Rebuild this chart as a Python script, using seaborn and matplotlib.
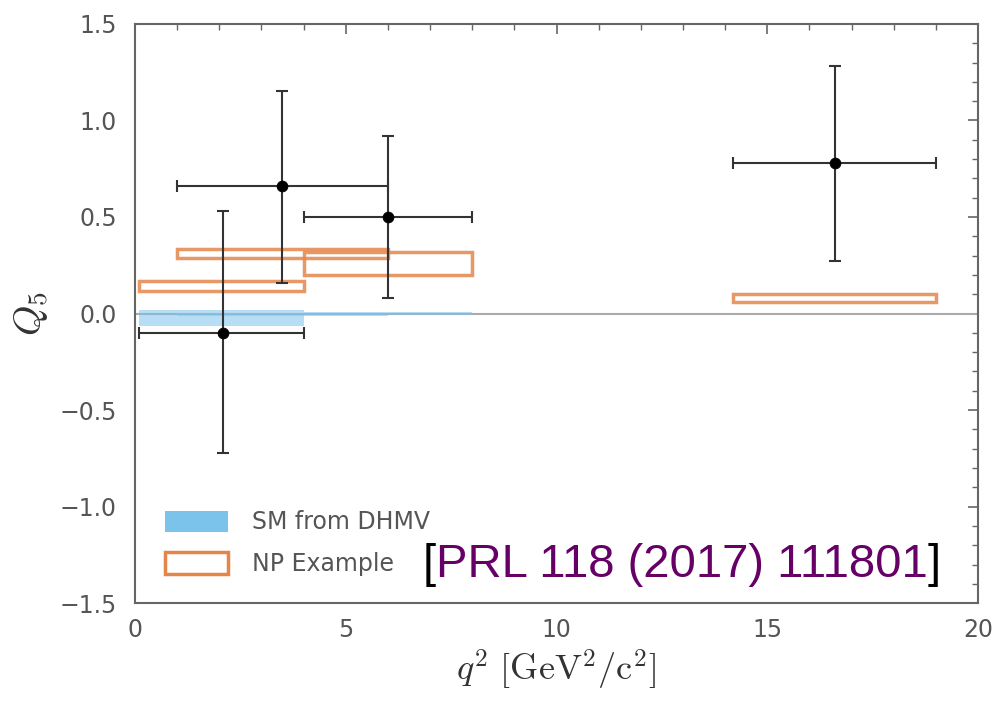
import numpy as np
import pandas as pd
import matplotlib
matplotlib.use("Agg")
import matplotlib.pyplot as plt
import seaborn as sns
from matplotlib.patches import Patch
from matplotlib.ticker import MultipleLocator

# measured Q5 points (Belle)
q2_lo = [0.1, 1.0, 4.0, 14.18]
q2_hi = [4.0, 6.0, 8.0, 19.0]
q2_mid = [2.1, 3.5, 6.0, 16.6]
q5 = [-0.10, 0.66, 0.50, 0.78]
q5_err_up = [0.63, 0.49, 0.42, 0.50]
q5_err_dn = [0.62, 0.50, 0.42, 0.51]

# SM prediction bands (DHMV)
sm_lo = [0.1, 1.0, 4.0]
sm_hi = [4.0, 6.0, 8.0]
sm_ymin = [-0.065, -0.015, -0.01]
sm_ymax = [0.02, 0.005, 0.01]

# NP example boxes
np_lo = [0.1, 1.0, 4.0, 14.18]
np_hi = [4.0, 6.0, 8.0, 19.0]
np_ymin = [0.115, 0.29, 0.20, 0.062]
np_ymax = [0.17, 0.335, 0.32, 0.100]

sns.set_style("white")
plt.rcParams['mathtext.fontset'] = 'cm'
plt.rcParams['font.family'] = ['DejaVu Sans']

fig = plt.figure(figsize=(9.92, 7.03), dpi=100)
ax = fig.add_axes([0.136, 0.142, 0.850, 0.824])

blue = '#7cc3ec'
orange = '#e4864a'
grey = '#555555'

ax.axhline(0, color='#aaaaaa', lw=1.5, zorder=1)

# SM bands
for lo, hi, y0, y1 in zip(sm_lo, sm_hi, sm_ymin, sm_ymax):
    ax.bar(lo, y1 - y0, width=hi - lo, bottom=y0, align='edge',
           color=blue, alpha=0.55, lw=0, zorder=2)

# NP boxes
for lo, hi, y0, y1 in zip(np_lo, np_hi, np_ymin, np_ymax):
    ax.bar(lo, y1 - y0, width=hi - lo, bottom=y0, align='edge',
           facecolor='none', edgecolor=orange, lw=2.5, alpha=0.85, zorder=3)

df = pd.DataFrame({'q2': q2_mid, 'Q5': q5})
xerr = [np.array(q2_mid) - np.array(q2_lo), np.array(q2_hi) - np.array(q2_mid)]
ax.errorbar(q2_mid, q5, xerr=xerr, yerr=[q5_err_dn, q5_err_up], fmt='none',
            ecolor='#333333', elinewidth=1.5, capsize=4, capthick=1.5, zorder=4)
sns.scatterplot(data=df, x='q2', y='Q5', ax=ax, color='black', s=60,
                edgecolor='black', zorder=5, legend=False)

ax.set_xlim(0, 20)
ax.set_ylim(-1.5, 1.5)
ax.xaxis.set_major_locator(MultipleLocator(5))
ax.xaxis.set_minor_locator(MultipleLocator(1))
ax.yaxis.set_major_locator(MultipleLocator(0.5))
ax.yaxis.set_minor_locator(MultipleLocator(0.1))
ax.tick_params(which='both', direction='in', top=True, right=True,
               colors='#666666', labelcolor=grey)
ax.tick_params(which='major', length=7, width=1.2, labelsize=17)
ax.tick_params(axis='x', which='major', pad=11)
ax.tick_params(axis='y', which='major', pad=13)
ax.tick_params(which='minor', length=4, width=1)
for s in ax.spines.values():
    s.set_color('#666666')
    s.set_linewidth(1.5)

ax.set_xlabel(r'$q^2\ [\mathrm{GeV}^2/\mathrm{c}^2]$', fontsize=26, color='#333333',
              labelpad=4)
ax.set_ylabel(r'$Q_5$', fontsize=28, color='#333333', labelpad=6)

handles = [Patch(facecolor=blue, edgecolor='none', label='SM from DHMV'),
           Patch(facecolor='white', edgecolor=orange, lw=2.5, label='NP Example')]
leg = ax.legend(handles=handles, loc='lower left', bbox_to_anchor=(0.01, 0.01),
                fontsize=17, frameon=False, handlelength=2.7, handleheight=1.0,
                labelspacing=0.75, handletextpad=1.0)
for t in leg.get_texts():
    t.set_color(grey)

t1 = ax.text(0.341, 0.045, '[', transform=ax.transAxes, fontsize=34, color='black',
             family='Liberation Sans', ha='left', va='baseline')
t2 = ax.annotate('PRL 118 (2017) 111801', xy=(1, 0), xycoords=t1, fontsize=34,
                 color='#660066', family='Liberation Sans', ha='left', va='bottom')
ax.annotate(']', xy=(1, 0), xycoords=t2, fontsize=34, color='black',
            family='Liberation Sans', ha='left', va='bottom')

fig.savefig('out.png', dpi=100)
